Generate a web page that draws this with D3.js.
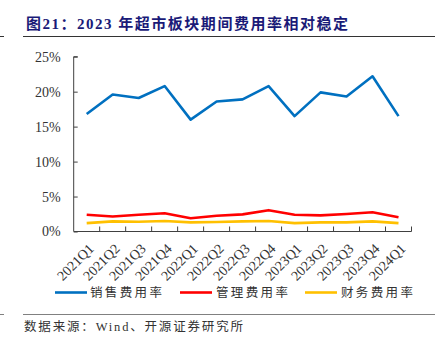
<!DOCTYPE html>
<html><head><meta charset="utf-8">
<script src="https://cdn.jsdelivr.net/npm/d3@7"></script>
<style>body{margin:0;background:#fff}svg{display:block}</style>
</head><body>
<script>
const categories = ["2021Q1","2021Q2","2021Q3","2021Q4","2022Q1","2022Q2","2022Q3","2022Q4","2023Q1","2023Q2","2023Q3","2023Q4","2024Q1"];
const salesRate   = [16.8,19.6,19.1,20.8,16.0,18.6,18.9,20.8,16.5,19.9,19.3,22.2,16.5];
const mgmtRate    = [2.4,2.15,2.4,2.6,1.9,2.25,2.45,3.05,2.4,2.3,2.5,2.75,2.05];
const finRate     = [1.2,1.45,1.4,1.5,1.3,1.35,1.45,1.5,1.2,1.3,1.3,1.45,1.2];
const seriesNames = ["销售费用率","管理费用率","财务费用率"];
const yTicks = [0,5,10,15,20,25];
const titleText = "图21：2023 年超市板块期间费用率相对稳定";
const sourceText = "数据来源：Wind、开源证券研究所";

const W = 444, H = 349;
const svg = d3.select("body").append("svg").attr("width", W).attr("height", H);
const serif = "'Liberation Serif','Times New Roman',serif";
const cjk = "'Liberation Serif','Noto Sans CJK SC',serif";

// title
svg.append("text").attr("x", 26).attr("y", 29)
  .attr("font-family", cjk).attr("font-weight", "bold").attr("font-size", 15)
  .attr("fill", "#1a1a78").attr("textLength", 322).attr("lengthAdjust", "spacing")
  .text(titleText);
svg.append("line").attr("x1", 23).attr("x2", 435).attr("y1", 36.5).attr("y2", 36.5)
  .attr("stroke", "#333").attr("stroke-width", 1);
svg.append("line").attr("x1", 0).attr("x2", 4).attr("y1", 36.5).attr("y2", 36.5)
  .attr("stroke", "#333").attr("stroke-width", 1);

const x = d3.scaleBand().domain(categories).range([73.7, 411.5]);
const y = d3.scaleLinear().domain([0, 25]).range([231.5, 56.7]);

// y axis
const gy = svg.append("g").attr("transform", "translate(73.7,0)")
  .call(d3.axisRight(y).tickValues(yTicks).tickSize(4).tickFormat(d => d + "%"));
gy.select(".domain").attr("stroke", "#404040").attr("d", `M4,${y(25)}H0V${y(0)}`);
gy.selectAll(".tick line").attr("stroke", "#404040");
gy.selectAll(".tick text").attr("x", -13).attr("text-anchor", "end")
  .attr("font-family", serif).attr("font-size", 14).attr("fill", "#333");

// x axis
const gx = svg.append("g").attr("transform", `translate(0,${y(0)})`);
gx.append("line").attr("x1", x.range()[0]).attr("x2", x.range()[1]).attr("stroke", "#404040");
gx.selectAll(".bt").data(categories).enter().append("line")
  .attr("x1", d => x(d) + x.bandwidth()).attr("x2", d => x(d) + x.bandwidth())
  .attr("y1", 0).attr("y2", -5).attr("stroke", "#404040");
gx.selectAll(".lab").data(categories).enter().append("text")
  .attr("transform", d => `translate(${x(d) + x.bandwidth()/2 + 8},${18}) rotate(-45)`)
  .attr("text-anchor", "end").attr("font-family", serif).attr("font-size", 14)
  .attr("fill", "#333").text(d => d);

// lines
const colors = ["#0070C0", "#FF0000", "#FFC000"];
const data = [salesRate, mgmtRate, finRate];
const line = d3.line().x((d, i) => x(categories[i]) + x.bandwidth()/2).y(d => y(d));
[2,1,0].forEach(k => {
  svg.append("path").datum(data[k]).attr("d", line).attr("fill", "none")
    .attr("stroke", colors[k]).attr("stroke-width", 2.6).attr("stroke-linejoin", "round");
});

// legend
const legX = [[55, 90], [180, 216], [305, 341]];
seriesNames.forEach((n, k) => {
  svg.append("line").attr("x1", legX[k][0]).attr("x2", legX[k][0] + 32)
    .attr("y1", 292.5).attr("y2", 292.5).attr("stroke", colors[k]).attr("stroke-width", 2.6);
  svg.append("text").attr("x", legX[k][1]).attr("y", 297)
    .attr("font-family", cjk).attr("font-size", 12.5).attr("fill", "#333")
    .attr("textLength", 72).attr("lengthAdjust", "spacing").text(n);
});

// footer
svg.append("line").attr("x1", 23).attr("x2", 435).attr("y1", 314.5).attr("y2", 314.5)
  .attr("stroke", "#808080").attr("stroke-width", 1.2);
svg.append("line").attr("x1", 0).attr("x2", 4).attr("y1", 314.5).attr("y2", 314.5)
  .attr("stroke", "#808080").attr("stroke-width", 1);
svg.append("text").attr("x", 24).attr("y", 331)
  .attr("font-family", cjk).attr("font-size", 12.5).attr("fill", "#333")
  .attr("textLength", 219).attr("lengthAdjust", "spacing").text(sourceText);
</script>
</body></html>
